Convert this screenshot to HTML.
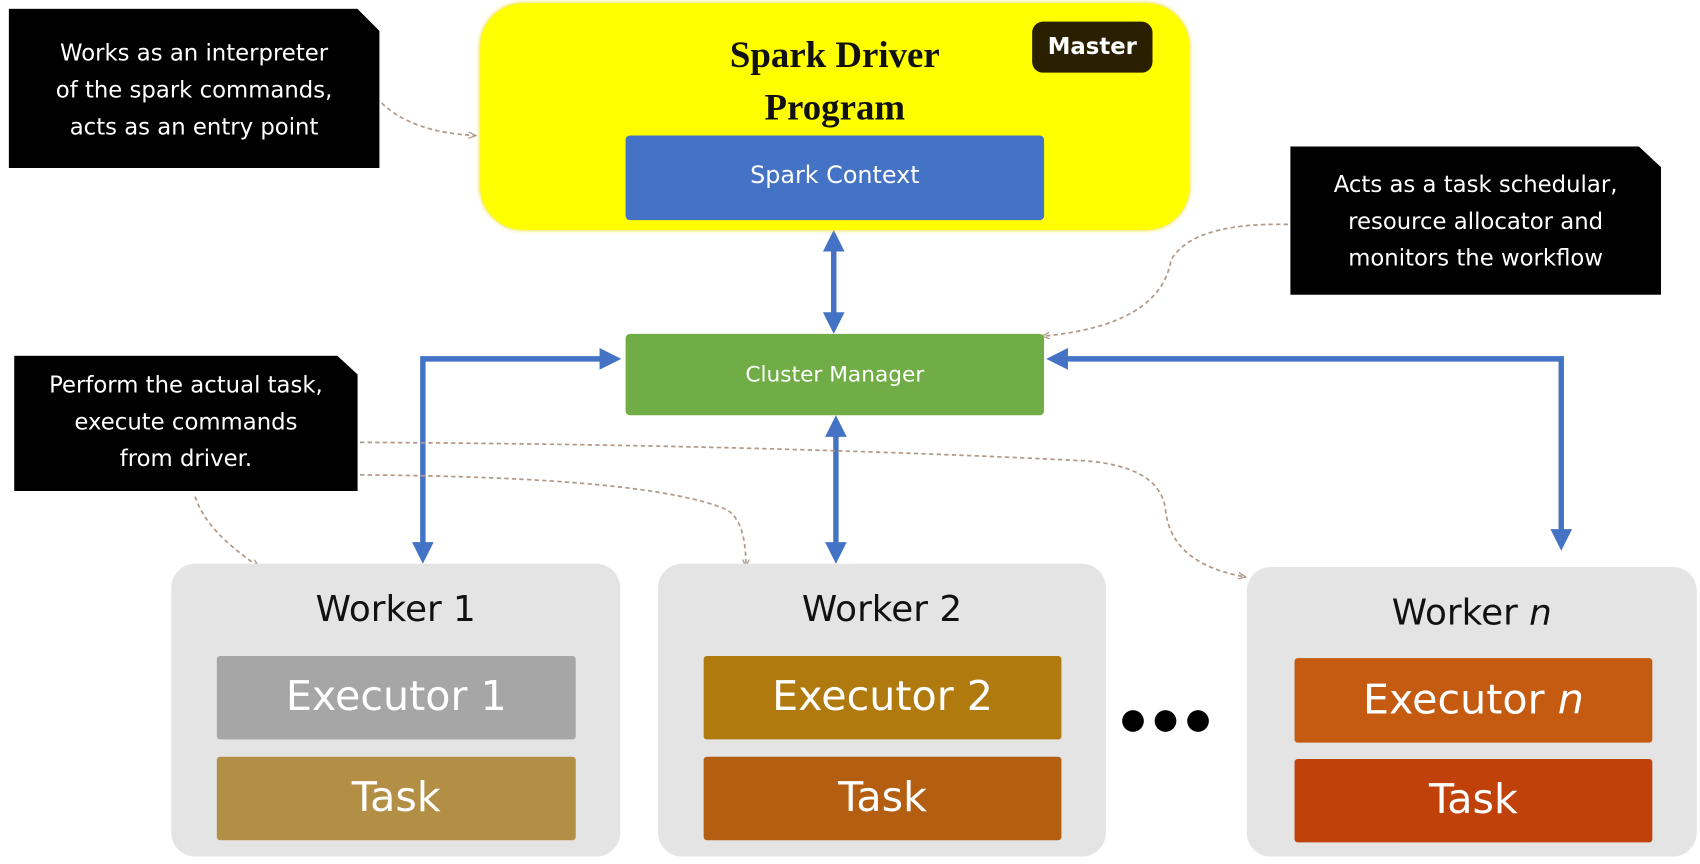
<!DOCTYPE html>
<html><head><meta charset="utf-8"><style>
html,body{margin:0;padding:0;background:#fff;width:1700px;height:864px;overflow:hidden}
#c{position:absolute;left:0;top:0;width:1568px;height:797px;transform:scale(1.0842);transform-origin:0 0;font-family:"DejaVu Sans","Liberation Sans",sans-serif}
.a{position:absolute;box-sizing:border-box}
.call{background:#000;color:#fff;text-align:center;font-size:21px;line-height:34px;clip-path:polygon(0 0,94% 0,100% 14%,100% 100%,0 100%)}
.w{background:#e4e4e4;border-radius:22px}
.wt{position:absolute;left:0;right:0;text-align:center;font-size:33px;color:#111}
.bx{position:absolute;color:#fff;text-align:center;font-size:38px;border-radius:3px}
</style></head><body><div id="c">
<svg class="a" style="left:0;top:0" width="1568" height="797">
<defs>
<marker id="ah" markerWidth="4" markerHeight="4" refX="2" refY="2" orient="auto-start-reverse" markerUnits="strokeWidth"><path d="M0,0 L4,2 L0,4 Z" fill="#4472c4"/></marker>
<marker id="dh" markerWidth="8" markerHeight="8" refX="6" refY="4" orient="auto" markerUnits="userSpaceOnUse"><path d="M0,1 L7,4 L0,7" fill="none" stroke="#b09a8a" stroke-width="1.2"/></marker>
</defs>
<g stroke="#4472c4" stroke-width="5" fill="none" marker-end="url(#ah)">
<line x1="769" y1="222" x2="769" y2="298" marker-start="url(#ah)"/>
<line x1="771" y1="393" x2="771" y2="510" marker-start="url(#ah)"/>
<polyline points="390,510 390,331 563,331" marker-start="url(#ah)"/>
<polyline points="975,331 1440,331 1440,498" marker-start="url(#ah)"/>
</g>
<g stroke="#b09a8a" stroke-width="1.6" stroke-dasharray="4,3" fill="none" marker-end="url(#dh)">
<path d="M352,95 Q380,122 438,125"/>
<path d="M1188,207 Q1100,205 1080,240 Q1070,300 962,310"/>
<path d="M180,458 Q190,490 238,522"/>
<path d="M332,408 Q700,410 1000,425 Q1070,430 1075,470 Q1080,520 1148,532"/>
<path d="M332,438 Q600,440 670,470 Q688,480 688,522"/>
</g>
</svg>
<div class="a call" style="left:8px;top:8px;width:342px;height:147px;padding-top:24px">Works as an interpreter<br>of the spark commands,<br>acts as an entry point</div>
<div class="a call" style="left:1190px;top:135px;width:342px;height:137px;padding-top:18px">Acts as a task schedular,<br>resource allocator and<br>monitors the workflow</div>
<div class="a call" style="left:13px;top:328px;width:317px;height:125px;padding-top:10px">Perform the actual task,<br>execute commands<br>from driver.</div>
<div class="a" style="left:443px;top:3px;width:654px;height:209px;background:#ffff00;border-radius:40px;box-shadow:0 0 4px #e8d800"></div>
<div class="a" style="left:560px;top:28px;width:420px;text-align:center;font-family:'Liberation Serif',serif;font-weight:bold;font-size:34px;line-height:48px;color:#111">Spark Driver<br>Program</div>
<div class="a" style="left:952px;top:20px;width:111px;height:47px;background:#2a2000;border-radius:10px;color:#fff;font-weight:bold;font-size:21px;text-align:center;line-height:46px">Master</div>
<div class="a" style="left:577px;top:125px;width:386px;height:78px;background:#4472c4;border-radius:4px;color:#fff;font-size:22px;text-align:center;line-height:76px">Spark Context</div>
<div class="a" style="left:577px;top:308px;width:386px;height:75px;background:#70ad47;border-radius:4px;color:#fff;font-size:20px;text-align:center;line-height:75px">Cluster Manager</div>

<div class="a w" style="left:158px;top:520px;width:414px;height:270px"></div>
<div class="a w" style="left:607px;top:520px;width:413px;height:270px"></div>
<div class="a w" style="left:1150px;top:523px;width:415px;height:267px"></div>
<div class="a" style="left:158px;top:520px;width:414px;height:270px"><div class="wt" style="top:22px">Worker 1</div>
<div class="bx" style="left:42px;top:85px;width:331px;height:77px;line-height:75px;background:#a6a6a6">Executor 1</div>
<div class="bx" style="left:42px;top:178px;width:331px;height:77px;line-height:75px;background:#b38e45">Task</div></div>
<div class="a" style="left:607px;top:520px;width:413px;height:270px"><div class="wt" style="top:22px">Worker 2</div>
<div class="bx" style="left:42px;top:85px;width:330px;height:77px;line-height:75px;background:#b07a0e">Executor 2</div>
<div class="bx" style="left:42px;top:178px;width:330px;height:77px;line-height:75px;background:#b35e10">Task</div></div>
<div class="a" style="left:1150px;top:523px;width:415px;height:267px"><div class="wt" style="top:22px">Worker <i>n</i></div>
<div class="bx" style="left:44px;top:84px;width:330px;height:78px;line-height:76px;background:#c55a11">Executor <i>n</i></div>
<div class="bx" style="left:44px;top:177px;width:330px;height:77px;line-height:75px;background:#c0410a">Task</div></div>
<svg class="a" style="left:1030px;top:648px" width="90" height="34"><circle cx="15" cy="17" r="10" fill="#000"/><circle cx="45" cy="17" r="10" fill="#000"/><circle cx="75" cy="17" r="10" fill="#000"/></svg>
</div></body></html>
